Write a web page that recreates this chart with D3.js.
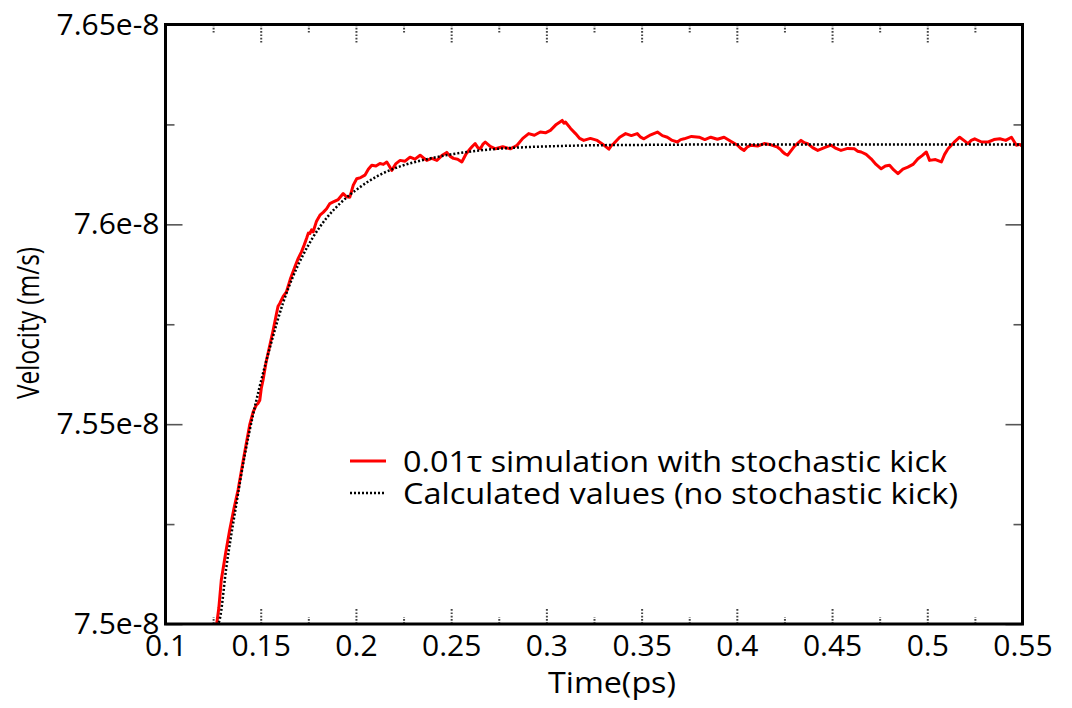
<!DOCTYPE html>
<html>
<head>
<meta charset="utf-8">
<script src="https://cdn.jsdelivr.net/npm/d3@7"></script>
<style>
  html, body { margin: 0; padding: 0; background: #fff; }
  svg { display: block; }
  text { font-family: "Open Sans", "Noto Sans", sans-serif; fill: #000; }
</style>
</head>
<body>
<svg id="chart" width="1072" height="708"></svg>
<script>
// Velocity in units of 1e-8 m/s, time in ps.
const simTime = [
  0.1266,0.1280,0.1293,0.1315,0.1337,0.1360,0.1381,0.1412,0.1442,0.1460,
  0.1477,0.1486,0.1495,0.1503,0.1512,0.1528,0.1544,0.1563,0.1583,0.1591,
  0.1600,0.1618,0.1635,0.1657,0.1679,0.1697,0.1714,0.1728,0.1741,0.1750,
  0.1758,0.1767,0.1775,0.1793,0.1811,0.1828,0.1846,0.1863,0.1881,0.1907,
  0.1933,0.1950,0.1968,0.1986,0.2004,0.2025,0.2047,0.2065,0.2083,0.2105,
  0.2126,0.2144,0.2162,0.2175,0.2188,0.2210,0.2232,0.2258,0.2284,0.2310,
  0.2337,0.2355,0.2372,0.2398,0.2425,0.2451,0.2477,0.2495,0.2512,0.2534,
  0.2556,0.2578,0.2600,0.2613,0.2626,0.2640,0.2653,0.2666,0.2679,0.2705,
  0.2732,0.2771,0.2811,0.2828,0.2846,0.2876,0.2907,0.2937,0.2968,0.2995,
  0.3021,0.3052,0.3083,0.3092,0.3100,0.3127,0.3153,0.3175,0.3196,0.3231,
  0.3267,0.3297,0.3328,0.3341,0.3354,0.3385,0.3416,0.3446,0.3477,0.3495,
  0.3512,0.3548,0.3583,0.3609,0.3635,0.3661,0.3688,0.3705,0.3723,0.3762,
  0.3802,0.3832,0.3863,0.3898,0.3933,0.3968,0.4004,0.4021,0.4038,0.4056,
  0.4074,0.4109,0.4144,0.4179,0.4214,0.4228,0.4241,0.4254,0.4267,0.4302,
  0.4337,0.4355,0.4372,0.4398,0.4425,0.4460,0.4495,0.4521,0.4547,0.4582,
  0.4617,0.4635,0.4653,0.4679,0.4705,0.4731,0.4758,0.4780,0.4802,0.4824,
  0.4846,0.4872,0.4898,0.4925,0.4951,0.4973,0.4995,0.5004,0.5012,0.5043,
  0.5074,0.5091,0.5109,0.5140,0.5170,0.5192,0.5214,0.5231,0.5249,0.5285,
  0.5320,0.5350,0.5381,0.5412,0.5442,0.5455,0.5468,0.5486,0.5504
];
const simVelocity = [
  7.4990,7.5040,7.5110,7.5175,7.5235,7.5290,7.5335,7.5420,7.5498,7.5530,
  7.5548,7.5552,7.5560,7.5590,7.5610,7.5655,7.5689,7.5730,7.5777,7.5795,
  7.5802,7.5820,7.5831,7.5865,7.5893,7.5915,7.5931,7.5948,7.5965,7.5978,
  7.5977,7.5986,7.5981,7.6008,7.6023,7.6030,7.6039,7.6052,7.6056,7.6062,
  7.6077,7.6069,7.6068,7.6098,7.6114,7.6117,7.6123,7.6138,7.6148,7.6146,
  7.6152,7.6150,7.6156,7.6146,7.6135,7.6152,7.6160,7.6158,7.6168,7.6163,
  7.6173,7.6166,7.6160,7.6165,7.6160,7.6172,7.6180,7.6170,7.6165,7.6163,
  7.6156,7.6176,7.6189,7.6196,7.6202,7.6192,7.6189,7.6200,7.6206,7.6195,
  7.6189,7.6194,7.6189,7.6193,7.6198,7.6215,7.6227,7.6223,7.6231,7.6229,
  7.6235,7.6250,7.6260,7.6253,7.6256,7.6240,7.6227,7.6215,7.6210,7.6215,
  7.6210,7.6200,7.6188,7.6197,7.6202,7.6218,7.6227,7.6222,7.6227,7.6218,
  7.6214,7.6224,7.6231,7.6222,7.6218,7.6210,7.6206,7.6212,7.6214,7.6220,
  7.6218,7.6212,7.6218,7.6213,7.6218,7.6208,7.6198,7.6190,7.6185,7.6194,
  7.6198,7.6196,7.6202,7.6199,7.6193,7.6188,7.6181,7.6176,7.6173,7.6195,
  7.6210,7.6204,7.6202,7.6192,7.6185,7.6192,7.6198,7.6190,7.6185,7.6190,
  7.6189,7.6183,7.6181,7.6175,7.6164,7.6150,7.6139,7.6146,7.6148,7.6136,
  7.6127,7.6138,7.6143,7.6150,7.6164,7.6172,7.6181,7.6170,7.6160,7.6162,
  7.6156,7.6175,7.6189,7.6205,7.6218,7.6210,7.6202,7.6210,7.6214,7.6206,
  7.6206,7.6212,7.6214,7.6210,7.6218,7.6208,7.6198,7.6200,7.6193
];

const calcTime = [
  0.1270,0.1284,0.1319,0.1372,0.1416,0.1459,0.1495,0.1556,0.1617,0.1670,
  0.1723,0.1775,0.1846,0.1916,0.2021,0.2126,0.2232,0.2372,0.2512,0.2653,
  0.2846,0.3000,0.3284,0.3600,0.4000,0.4500,0.5000,0.5500
];
const calcVelocity = [
  7.4995,7.5010,7.5140,7.5300,7.5422,7.5522,7.5595,7.5705,7.5803,7.5870,
  7.5924,7.5968,7.6016,7.6052,7.6093,7.6124,7.6145,7.6163,7.6176,7.6185,
  7.6192,7.6195,7.6198,7.6199,7.6200,7.6200,7.6200,7.6200
];

const xMajorTicks = [0.1,0.15,0.2,0.25,0.3,0.35,0.4,0.45,0.5,0.55];
const xTickLabels = ["0.1","0.15","0.2","0.25","0.3","0.35","0.4","0.45","0.5","0.55"];
const xMinorTicks = [0.125,0.175,0.225,0.275,0.325,0.375,0.425,0.475,0.525];
const yMajorTicks = [7.5,7.55,7.6,7.65];
const yTickLabels = ["7.5e-8","7.55e-8","7.6e-8","7.65e-8"];
const yMinorTicks = [7.525,7.575,7.625];

const seriesNames = ["0.01\u03c4 simulation with stochastic kick", "Calculated values (no stochastic kick)"];

const svg = d3.select("#chart");
const plot = { left: 165.5, right: 1022.5, top: 24.5, bottom: 624 };

const x = d3.scaleLinear().domain([0.1, 0.55]).range([plot.left, plot.right]);
const y = d3.scaleLinear().domain([7.5, 7.65]).range([plot.bottom, plot.top]);

svg.append("defs").append("clipPath").attr("id", "plotClip")
  .append("rect")
  .attr("x", plot.left).attr("y", plot.top)
  .attr("width", plot.right - plot.left).attr("height", plot.bottom - plot.top);

// Inward tick marks: dotted on the time axes, solid grey on the velocity axes
function styleTicks(g, opts) {
  g.select(".domain").remove();
  g.selectAll(".tick line")
    .attr("stroke", opts.color)
    .attr("stroke-width", opts.width)
    .attr("stroke-dasharray", opts.dash || null);
  g.selectAll(".tick text")
    .style("font-size", "30px")
    .style("font-family", "'Open Sans', 'Noto Sans', sans-serif")
    .attr("fill", "#000");
}

const dotted = { color: "#444", width: 2, dash: "1.7,1.6" };
const solid = { color: "#555", width: 1.6 };

// bottom axis with labels
svg.append("g").attr("transform", `translate(0,${plot.bottom})`)
  .call(d3.axisBottom(x).tickValues(xMajorTicks).tickSize(-16).tickPadding(4)
    .tickFormat((d, i) => xTickLabels[i]))
  .call(g => styleTicks(g, dotted))
  .call(g => g.selectAll(".tick text").attr("dy", "0.92em"));
svg.append("g").attr("transform", `translate(0,${plot.bottom})`)
  .call(d3.axisBottom(x).tickValues(xMinorTicks).tickSize(-7).tickFormat(""))
  .call(g => styleTicks(g, dotted));

// top axis, ticks only
svg.append("g").attr("transform", `translate(0,${plot.top})`)
  .call(d3.axisTop(x).tickValues(xMajorTicks).tickSize(-18).tickFormat(""))
  .call(g => styleTicks(g, dotted));
svg.append("g").attr("transform", `translate(0,${plot.top})`)
  .call(d3.axisTop(x).tickValues(xMinorTicks).tickSize(-8).tickFormat(""))
  .call(g => styleTicks(g, dotted));

// left axis with labels
svg.append("g").attr("transform", `translate(${plot.left},0)`)
  .call(d3.axisLeft(y).tickValues(yMajorTicks).tickSize(-17).tickPadding(6)
    .tickFormat((d, i) => yTickLabels[i]))
  .call(g => styleTicks(g, solid));
svg.append("g").attr("transform", `translate(${plot.left},0)`)
  .call(d3.axisLeft(y).tickValues(yMinorTicks).tickSize(-9).tickFormat(""))
  .call(g => styleTicks(g, solid));

// right axis, ticks only
svg.append("g").attr("transform", `translate(${plot.right},0)`)
  .call(d3.axisRight(y).tickValues(yMajorTicks).tickSize(-17).tickFormat(""))
  .call(g => styleTicks(g, solid));
svg.append("g").attr("transform", `translate(${plot.right},0)`)
  .call(d3.axisRight(y).tickValues(yMinorTicks).tickSize(-9).tickFormat(""))
  .call(g => styleTicks(g, solid));

// data lines
const lines = svg.append("g").attr("clip-path", "url(#plotClip)");

const simData = simTime.map((t, i) => [t, simVelocity[i]]);
const calcData = calcTime.map((t, i) => [t, calcVelocity[i]]);

lines.append("path")
  .datum(simData)
  .attr("fill", "none")
  .attr("stroke", "#ff0000")
  .attr("stroke-width", 3)
  .attr("stroke-linejoin", "round")
  .attr("d", d3.line().x(d => x(d[0])).y(d => y(d[1])));

lines.append("path")
  .datum(calcData)
  .attr("fill", "none")
  .attr("stroke", "#000")
  .attr("stroke-width", 2.5)
  .attr("stroke-dasharray", "2,2")
  .attr("d", d3.line().curve(d3.curveMonotoneX).x(d => x(d[0])).y(d => y(d[1])));

// frame
svg.append("rect")
  .attr("x", plot.left).attr("y", plot.top)
  .attr("width", plot.right - plot.left).attr("height", plot.bottom - plot.top)
  .attr("fill", "none").attr("stroke", "#000").attr("stroke-width", 3);

// legend
const legend = svg.append("g");
const legendRows = [
  { name: seriesNames[0], color: "#ff0000", width: 3, dash: null, y: 461, len: 544 },
  { name: seriesNames[1], color: "#000", width: 2.5, dash: "2,2", y: 493, len: 555 }
];
legendRows.forEach(r => {
  legend.append("line")
    .attr("x1", 350).attr("x2", 386).attr("y1", r.y).attr("y2", r.y)
    .attr("stroke", r.color).attr("stroke-width", r.width)
    .attr("stroke-dasharray", r.dash);
  legend.append("text")
    .attr("x", 403).attr("y", r.y + 11)
    .attr("textLength", r.len)
    .attr("lengthAdjust", "spacingAndGlyphs")
    .style("font-size", "30px")
    .text(r.name);
});

// axis titles
svg.append("text")
  .attr("x", (plot.left + plot.right) / 2 + 18).attr("y", 693)
  .attr("text-anchor", "middle")
  .attr("textLength", 128)
  .attr("lengthAdjust", "spacingAndGlyphs")
  .style("font-size", "30px")
  .text("Time(ps)");

svg.append("text")
  .attr("transform", "translate(39,323) rotate(-90)")
  .attr("text-anchor", "middle")
  .attr("textLength", 152)
  .attr("lengthAdjust", "spacingAndGlyphs")
  .style("font-size", "31px")
  .text("Velocity (m/s)");
</script>
</body>
</html>
